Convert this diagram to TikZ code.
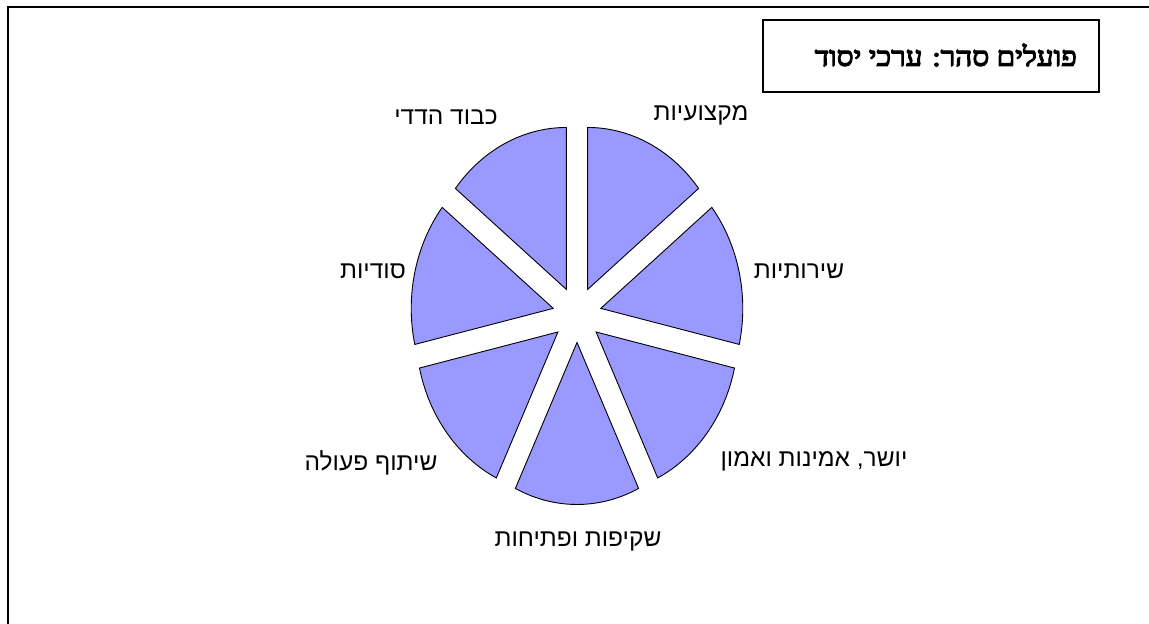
\documentclass[tikz,border=0pt]{standalone}
\usepackage{fontspec}
\TeXXeTstate=1
\newfontfamily\labfont[Script=Hebrew]{Liberation Sans}
\newfontfamily\ttlfont[Script=Hebrew,FakeBold=4.5,FakeStretch=1.1]{Liberation Serif}
\definecolor{slicefill}{HTML}{9999FF}
\begin{document}
\begin{tikzpicture}[x=1pt,y=1pt,
  slice/.style={draw=black,line width=0.9pt,fill=slicefill,line join=miter},
  lab/.style={inner sep=0pt,font=\labfont\fontsize{24.5}{28}\selectfont},
  frameline/.style={draw=black,line width=2pt},
  titlebox/.style={draw=black,line width=1.3pt}]
\useasboundingbox (0,0) rectangle (1149,624);
% outer frame (only top and left edges are visible)
\begin{scope}
\clip (0,0) rectangle (1149,624);
\draw[frameline] (8,-10) |- (1160,617);
\end{scope}
% title box
\draw[titlebox] (763,604) rectangle (1099,532);
\node[inner sep=0pt,anchor=east,font=\ttlfont\fontsize{27}{31}\selectfont] (title) at (1077,569) {\beginR פועלים סהר: ערכי יסוד\endR};
% pie
\coordinate (C) at (577,309.4);
\foreach \i in {0,...,6}{
  \pgfmathsetmacro{\a}{90-\i*360/7}
  \pgfmathsetmacro{\b}{90-(\i+1)*360/7}
  \pgfmathsetmacro{\m}{(\a+\b)/2}
  \draw[slice] (C) ++(\m:24.4 and 27.9) coordinate (tip\i)
     -- ++(\a:142 and 162) arc[start angle=\a,end angle=\b,x radius=142,y radius=162] -- cycle;
}
% labels
\node[lab] (mq) at (701,509) {\beginR מקצועיות\endR};
\node[lab] (sh) at (799,353) {\beginR שירותיות\endR};
\node[lab] (yo) at (814,163) {\beginR יושר, אמינות ואמון\endR};
\node[lab] (sk) at (578,83) {\beginR שקיפות ופתיחות\endR};
\node[lab] (st) at (371,161) {\beginR שיתוף פעולה\endR};
\node[lab] (so) at (373,353) {\beginR סודיות\endR};
\node[lab] (kv) at (446,507) {\beginR כבוד הדדי\endR};
\end{tikzpicture}
\end{document}
